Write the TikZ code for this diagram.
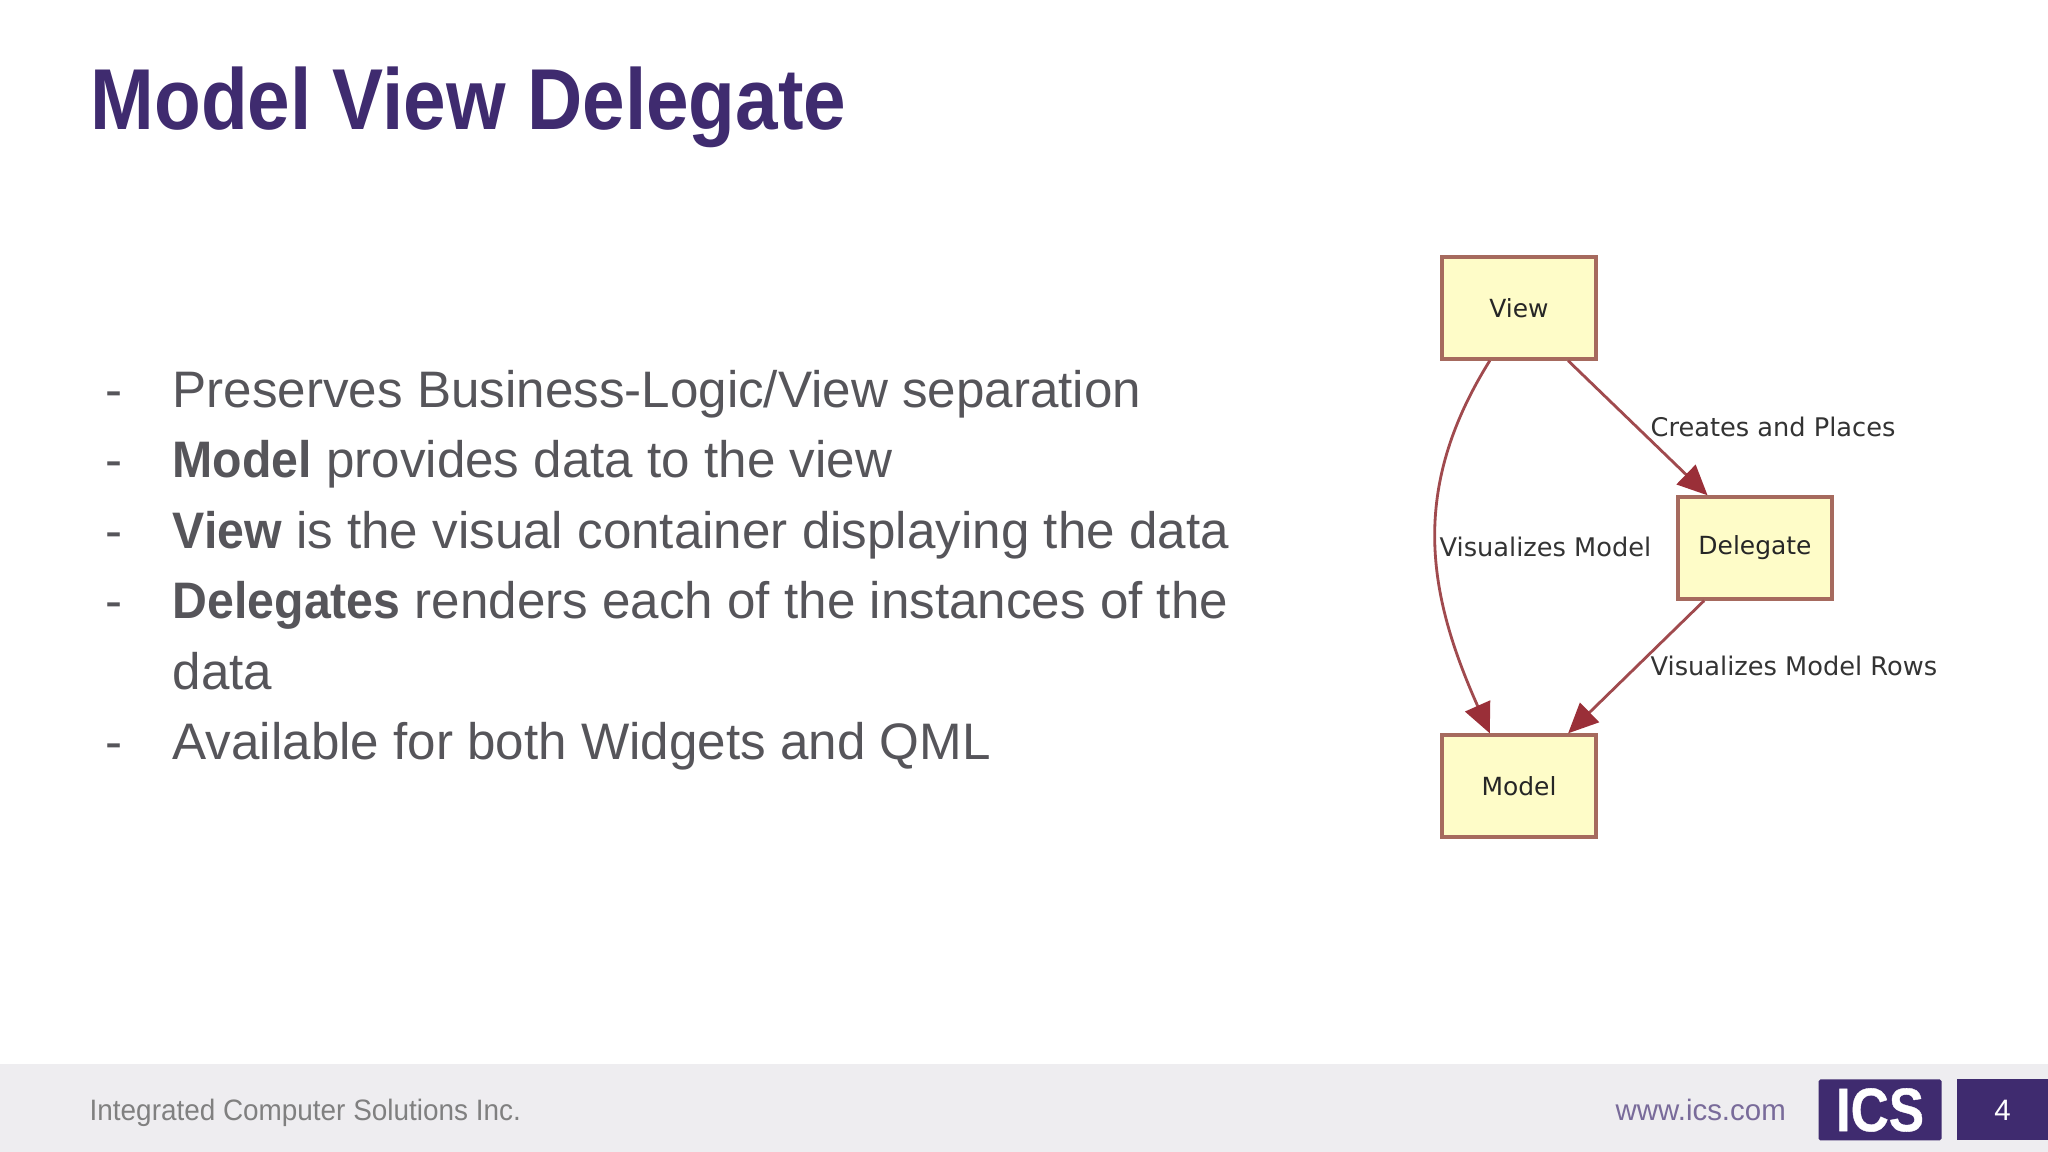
\documentclass[tikz,border=0pt]{standalone}
\usepackage{fontspec}
\setmainfont[FakeStretch=0.997,BoldFont={Liberation Sans Bold},BoldFeatures={FakeStretch=0.94}]{Liberation Sans}
\newfontfamily\dejafont{DejaVu Sans}
\newfontfamily\titlefont[FakeStretch=0.885]{Liberation Sans Bold}
\newfontfamily\logofont[FakeStretch=0.86,FakeBold=0.6]{Liberation Sans Bold}
\newfontfamily\companyfont[FakeStretch=0.945]{Liberation Sans}
\usetikzlibrary{arrows.meta}
\definecolor{icspurple}{HTML}{3F2B6F}
\definecolor{bandgray}{HTML}{EEEDF0}
\definecolor{bodygray}{HTML}{56555A}
\definecolor{boxfill}{HTML}{FEFCC8}
\definecolor{boxedge}{HTML}{A66A5E}
\definecolor{arrowred}{HTML}{9A2F38}
\definecolor{arrowline}{HTML}{A04A4E}
\tikzset{
    titletext/.style = {anchor=base west,inner sep=0,font=\titlefont\fontsize{24.6}{28}\selectfont,text=icspurple},
    bodytext/.style = {anchor=base west,inner sep=0,font=\fontsize{14.6}{18}\selectfont,text=bodygray},
    boxnode/.style = {rectangle, draw=boxedge, line width=0.95pt, fill=boxfill, minimum width=1.54cm, minimum height=1.02cm, inner sep=0, font=\dejafont\fontsize{7.1}{9}\selectfont, text=black!85},
    edgelabel/.style = {anchor=base west,inner sep=0,font=\dejafont\fontsize{7.3}{9}\selectfont,text=black!80},
    edgearrow/.style = {-{Triangle[length=3mm,width=2.7mm,color=arrowred,fill=arrowred]},line width=0.8pt,arrowline},
    footertext/.style = {anchor=base west,inner sep=0,font=\fontsize{8.4}{10}\selectfont},
    purplebox/.style = {rectangle, fill=icspurple, inner sep=0, text=white}
}
\begin{document}
\begin{tikzpicture}
\useasboundingbox (0,0) rectangle (20.48,11.52);
\fill[white] (0,0) rectangle (20.48,11.52);
\fill[bandgray] (0,0) rectangle (20.48,0.88);

\node[titletext] (title) at (0.90, 10.22) {Model View Delegate};

\node[bodytext] (dash1) at (1.05, 7.445) {-};
\node[bodytext] (line1) at (1.72, 7.445) {Preserves Business-Logic/View separation};
\node[bodytext] (dash2) at (1.05, 6.745) {-};
\node[bodytext] (line2) at (1.72, 6.745) {\textbf{Model} provides data to the view};
\node[bodytext] (dash3) at (1.05, 6.035) {-};
\node[bodytext] (line3) at (1.72, 6.035) {\textbf{View} is the visual container displaying the data};
\node[bodytext] (dash4) at (1.05, 5.335) {-};
\node[bodytext] (line4) at (1.72, 5.335) {\textbf{Delegates} renders each of the instances of the};
\node[bodytext] (line5) at (1.72, 4.625) {data};
\node[bodytext] (dash6) at (1.05, 3.925) {-};
\node[bodytext] (line6) at (1.72, 3.925) {Available for both Widgets and QML};

\node[boxnode] (view) at (15.19, 8.44) {View};
\node[boxnode] (delegate) at (17.55, 6.04) {Delegate};
\node[boxnode] (model) at (15.19, 3.66) {Model};

\draw[edgearrow] (view.241) to[out=238,in=114,looseness=1.05] (model.119);
\draw[edgearrow] (view.-47) -- (delegate.132);
\draw[edgearrow] (delegate.226) -- (model.47);

\node[edgelabel] (labelcreates) at (16.50, 7.15) {Creates and Places};
\node[edgelabel] (labelmodel) at (14.39, 5.95) {Visualizes Model};
\node[edgelabel] (labelrows) at (16.50, 4.76) {Visualizes Model Rows};

\node[footertext,font=\companyfont\fontsize{8.4}{10}\selectfont,text=black!50] (company) at (0.89, 0.31) {Integrated Computer Solutions Inc.};
\node[footertext,text=icspurple!70] (website) at (16.15, 0.31) {www.ics.com};
\node[purplebox,rounded corners=0.5pt,minimum width=1.23cm,minimum height=0.61cm,font=\logofont\fontsize{17.5}{20}\selectfont] (logo) at (18.80, 0.42) {ICS};
\node[purplebox,minimum width=0.91cm,minimum height=0.61cm,font=\fontsize{8.4}{10}\selectfont] (pagenum) at (20.025, 0.42) {4};
\end{tikzpicture}
\end{document}
